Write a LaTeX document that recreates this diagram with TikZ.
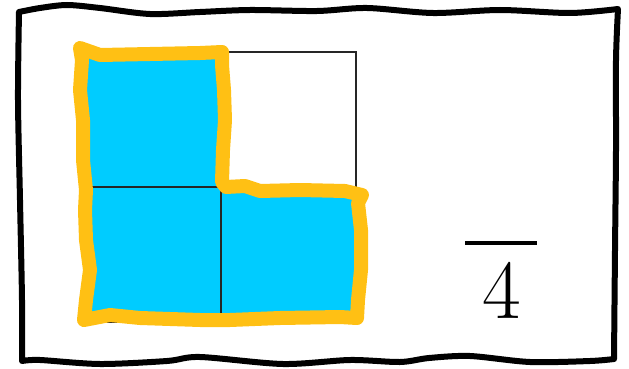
\documentclass[tikz,border=0pt]{standalone}
\usepackage{tikz}
\usetikzlibrary{positioning,calc}
\usepackage{xcolor}
\definecolor{cellblue}{HTML}{00CCFF}
\definecolor{markgold}{HTML}{FFC014}

\begin{document}
\begin{tikzpicture}[x=1pt, y=-1pt,
    cell/.style={rectangle, draw=black!85, line width=2.2pt, minimum size=135pt, inner sep=0pt},
    frame/.style={draw=black, line width=6pt, line join=round},
    outline/.style={draw=markgold, line width=14pt, line join=round, line cap=round},
    fracbar/.style={draw=black, line width=4pt}]

    \useasboundingbox (0,0) rectangle (629,369);

    % wavy frame
    \draw[frame] plot[smooth] coordinates {(19,12) (40,8) (67,5) (100,8) (150,14) (200,12) (250,10)
        (317,11) (367,8) (433,13) (500,10) (570,13) (618,9)}
        -- plot[smooth] coordinates {(618,9) (616,60) (616,150) (615,250) (614,359)}
        -- plot[smooth] coordinates {(614,359) (590,361) (530,362) (470,356) (429,358) (400,362)
        (350,360) (283,364) (200,357) (167,361) (100,364) (40,360) (22,361)}
        -- plot[smooth] coordinates {(22,361) (22,300) (20,200) (18,100) (19,12)} -- cycle;

    % grid cells
    \foreach \r/\c/\f in {1/1/cellblue, 1/2/white, 2/1/cellblue, 2/2/cellblue} {
        \node[cell, fill=\f] (c\r\c) at (86+135*\c-67.5, 52+135*\r-67.5) {};
    }

    % hand drawn outline
    \draw[outline] (80,48) -- (100,55) -- (150,54) -- (200,53) -- (222,52)
        -- (222,65) -- (224,90) -- (225,120) -- (223,150) -- (222,182) -- (226,187)
        -- (245,186) -- (260,191) -- (300,190) -- (345,191) -- (362,195)
        -- (358,203) -- (361,230) -- (361,270) -- (358,300) -- (357,318)
        -- (340,317) -- (280,318) -- (230,320) -- (200,320) -- (140,318) -- (110,315) -- (84,320)
        -- (86,300) -- (90,270) -- (86,240) -- (85,210) -- (86,190) -- (83,160) -- (83,120)
        -- (80,90) -- (82,60) -- cycle;

    % fraction
    \node[font=\fontsize{84}{84}\selectfont, inner sep=0pt] (den) at (502,290) {4};
    \coordinate (barL) at (465,243);
    \coordinate (barR) at (537,243);
    \draw[fracbar] (barL) -- (barR);
\end{tikzpicture}
\end{document}
